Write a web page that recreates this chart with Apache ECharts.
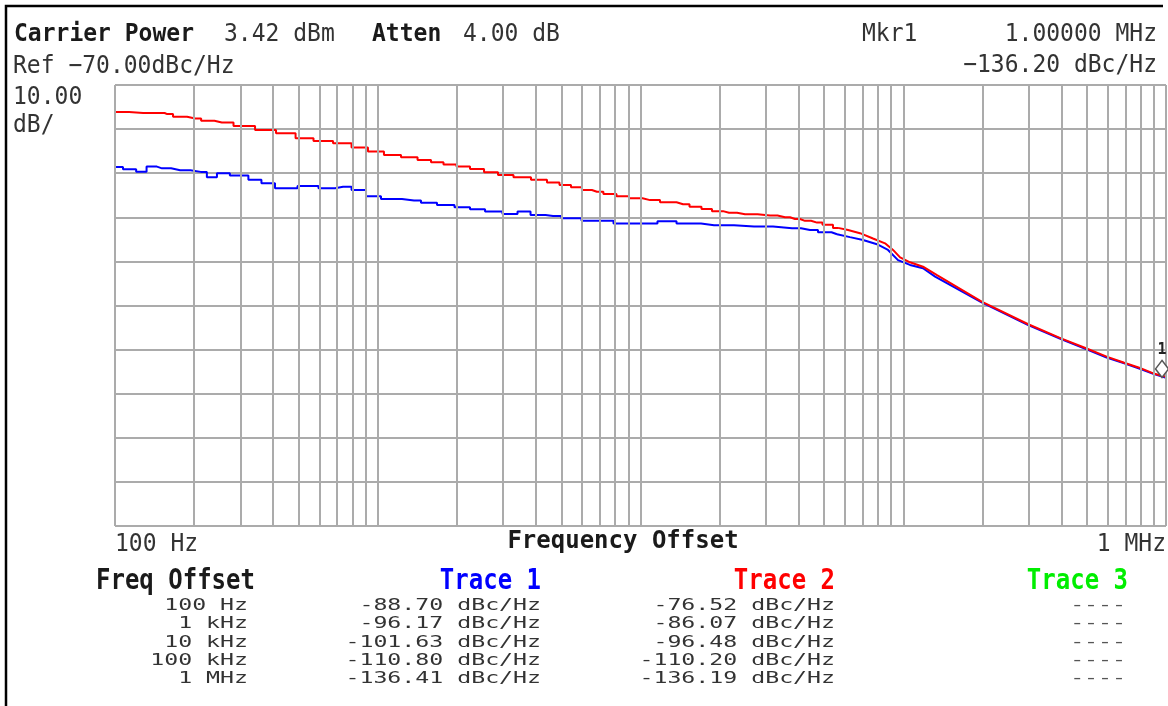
<!DOCTYPE html>
<html>
<head>
<meta charset="utf-8">
<title>Phase Noise</title>
<script src="https://cdn.jsdelivr.net/npm/echarts@6/dist/echarts.min.js"></script>
<style>
  html, body { margin: 0; padding: 0; background: #fff; }
  #chart { width: 1168px; height: 706px; }
</style>
</head>
<body>
<div id="chart"></div>
<script>
// 仪表读数
var carrierPower = 3.42
var atten = 4.00
var refLevel = -70
var scaleDiv = 10
var markerFreqLabel = '1.00000 MHz'
var markerFreq = 1000000
var markerLevel = -136.20

// 表格
var tableFreqs = ['100 Hz', '1 kHz', '10 kHz', '100 kHz', '1 MHz']
var trace1Table = [-88.70, -96.17, -101.63, -110.80, -136.41]
var trace2Table = [-76.52, -86.07, -96.48, -110.20, -136.19]

// 频率偏移 (Hz), dBc/Hz
var trace1 = [
  [100, -88.6], [115, -89.1], [126, -89.65], [138, -88.5], [151, -88.9], [177, -89.35],
  [212, -89.7], [236, -90.9], [253, -90.0], [296, -90.5], [350, -91.5], [372, -92.3],
  [444, -93.4], [552, -92.9], [641, -93.4], [738, -93.05], [856, -93.8], [951, -95.2],
  [1113, -95.85], [1374, -96.2], [1553, -96.7], [1819, -97.2], [2110, -97.7], [2388, -98.2],
  [2746, -98.7], [3243, -99.25], [3572, -98.7], [4074, -99.5], [4645, -99.7], [5395, -100.2],
  [6593, -100.8], [9450, -101.4], [10870, -101.4], [12390, -100.9], [15170, -101.4],
  [19050, -101.8], [27040, -102.1], [37740, -102.5], [44160, -102.9], [50800, -103.4],
  [55980, -103.85], [62660, -104.5], [70300, -105.15], [79430, -106.1], [87500, -107.4],
  [95500, -109.7], [106100, -110.8], [118900, -111.55], [132200, -113.45], [198800, -119.3],
  [297600, -124.4], [398300, -127.6], [496100, -129.9], [594300, -131.8], [693400, -133.1],
  [790700, -134.3], [895000, -135.5], [1000000, -136.4]
]
var trace2 = [
  [100, -76.1], [128, -76.35], [151, -76.35], [158, -76.6], [175, -77.2], [202, -77.6],
  [224, -78.1], [255, -78.5], [313, -79.3], [372, -80.2], [452, -80.95], [524, -82.1],
  [619, -82.7], [738, -83.2], [856, -84.2], [984, -85.1], [1133, -85.9], [1327, -86.4],
  [1514, -87.0], [1680, -87.5], [1884, -88.0], [2110, -88.5], [2388, -89.05], [2698, -89.8],
  [3050, -90.4], [3539, -90.9], [4144, -91.5], [4685, -92.1], [5161, -92.7], [5730, -93.2],
  [6252, -93.8], [6823, -94.2], [7650, -94.7], [8579, -95.2], [9530, -95.7], [10870, -96.1],
  [12950, -96.6], [14520, -97.05], [16260, -97.6], [17910, -98.1], [19550, -98.6],
  [21720, -98.95], [25000, -99.3], [31120, -99.6], [35480, -100.0], [38730, -100.4],
  [42270, -100.8], [46960, -101.2], [51700, -101.7], [56460, -102.4], [61660, -102.9],
  [68450, -103.6], [76700, -104.8], [85250, -105.9], [91440, -107.4], [97260, -109.1],
  [106100, -110.2], [118900, -111.2], [134400, -113.1], [198800, -119.1], [297600, -124.2],
  [398300, -127.45], [496100, -129.7], [594300, -131.6], [693400, -132.97], [790700, -134.1],
  [895000, -135.4], [1000000, -136.15]
]

// 低频段是阶梯状的扫描，高频段是平滑的
var stepLimit = 58000

// 对数网格线 1..9 x 每个十倍频
var gridFreqs = []
for (var d = 100; d < 1000000; d *= 10) {
  for (var m = 1; m < 10; m++) gridFreqs.push(d * m)
}
gridFreqs.push(1000000)

var FONT = '"DejaVu Sans Mono", "Liberation Mono", monospace'
var GRID_COLOR = '#ababab'

function txt(text, x, y, opt) {
  opt = opt || {}
  var align = opt.align || 'left'
  return {
    type: 'text',
    x: x,
    y: y,
    scaleX: opt.sx || 1,
    scaleY: opt.sy || 1,
    silent: true,
    style: {
      text: text,
      font: (opt.bold ? 'bold ' : '') + (opt.size || 23) + 'px ' + FONT,
      fill: opt.color || '#222',
      align: align,
      textAlign: align,
      verticalAlign: 'middle',
      textVerticalAlign: 'middle'
    }
  }
}

function dbc(v) {
  return v.toFixed(2) + ' dBc/Hz'
}

var texts = [
  txt('Carrier Power', 14, 34, { bold: true, sy: 1.1, color: '#1a1a1a' }),
  txt(carrierPower.toFixed(2) + ' dBm', 224, 34, { sy: 1.1, color: '#333' }),
  txt('Atten', 372, 34, { bold: true, sy: 1.1, color: '#1a1a1a' }),
  txt(atten.toFixed(2) + ' dB', 463, 34, { sy: 1.1, color: '#333' }),
  txt('Mkr1', 862, 34, { sy: 1.1, color: '#333' }),
  txt(markerFreqLabel, 1157, 34, { sy: 1.1, color: '#333', align: 'right' }),
  txt('Ref \u2212' + Math.abs(refLevel).toFixed(2) + 'dBc/Hz', 13, 66, { sy: 1.1, color: '#333' }),
  txt('\u2212' + Math.abs(markerLevel).toFixed(2) + ' dBc/Hz', 1157, 65, { sy: 1.1, color: '#333', align: 'right' }),
  txt(scaleDiv.toFixed(2), 13, 97, { sy: 1.1, color: '#333' }),
  txt('dB/', 13, 125, { sy: 1.1, color: '#333' }),
  txt('100 Hz', 115, 544, { sy: 1.1, color: '#333' }),
  txt('1 MHz', 1166, 544, { sy: 1.1, color: '#333', align: 'right' }),
  txt('Frequency Offset', 623, 541, { bold: true, size: 24, sy: 1.05, color: '#1a1a1a', align: 'center' }),
  txt('Freq Offset', 96, 582, { bold: true, size: 24, sy: 1.15, color: '#1a1a1a' }),
  txt('Trace 1', 541, 582, { bold: true, size: 24, sy: 1.15, color: '#0000ff', align: 'right' }),
  txt('Trace 2', 835, 582, { bold: true, size: 24, sy: 1.15, color: '#ff0000', align: 'right' }),
  txt('Trace 3', 1128, 582, { bold: true, size: 24, sy: 1.15, color: '#00ee00', align: 'right' })
]

var rowY = [606, 624, 642.5, 661, 679]
tableFreqs.forEach(function (f, i) {
  var o = { size: 16, sx: 1.45, color: '#333', align: 'right' }
  texts.push(txt(f, 248, rowY[i], o))
  texts.push(txt(dbc(trace1Table[i]), 541, rowY[i], o))
  texts.push(txt(dbc(trace2Table[i]), 835, rowY[i], o))
  texts.push(txt('----', 1126, rowY[i], { size: 16, sx: 1.45, color: '#555', align: 'right' }))
})

// 外框
texts.push({
  type: 'polyline',
  silent: true,
  shape: { points: [[6, 720], [6, 6], [1163, 6]] },
  style: { stroke: '#000', lineWidth: 2.5, fill: null }
})

function lowPart(arr) {
  return arr.filter(function (p) { return p[0] <= stepLimit })
}
function highPart(arr) {
  var low = lowPart(arr)
  return [low[low.length - 1]].concat(arr.filter(function (p) { return p[0] > stepLimit }))
}

function traceSeries(name, data, color, z, step) {
  return {
    name: name,
    type: 'line',
    z: z,
    data: data,
    step: step,
    showSymbol: false,
    lineStyle: { color: color, width: 2 },
    itemStyle: { color: color }
  }
}

var redHigh = traceSeries('Trace 2', highPart(trace2), '#ff0000', 4, false)
redHigh.markPoint = {
  silent: true,
  symbol: 'diamond',
  symbolSize: [13, 17],
  symbolOffset: [-4, -8],
  itemStyle: { color: '#fff', borderColor: '#555', borderWidth: 1.5 },
  label: {
    show: true,
    position: 'top',
    distance: 2,
    formatter: '1',
    color: '#222',
    fontFamily: 'DejaVu Sans Mono',
    fontWeight: 'bold',
    fontSize: 15
  },
  data: [{ coord: [markerFreq, markerLevel] }]
}

var chart = echarts.init(document.getElementById('chart'))
chart.setOption({
  animation: false,
  backgroundColor: '#fff',
  grid: { left: 115, top: 85, width: 1051, height: 441 },
  xAxis: {
    type: 'log',
    logBase: 10,
    min: 100,
    max: 1000000,
    axisLine: { show: false },
    axisTick: { show: false },
    axisLabel: { show: false },
    splitLine: { show: false }
  },
  yAxis: {
    type: 'value',
    min: refLevel - 10 * scaleDiv,
    max: refLevel,
    interval: scaleDiv,
    axisLine: { show: false },
    axisTick: { show: false },
    axisLabel: { show: false },
    splitLine: { show: true, showMinLine: true, showMaxLine: true, lineStyle: { color: GRID_COLOR, width: 2 } }
  },
  graphic: { elements: texts },
  series: [
    {
      // 竖直网格
      type: 'line',
      z: 1,
      silent: true,
      data: [[100, refLevel]],
      showSymbol: false,
      lineStyle: { opacity: 0 },
      markLine: {
        silent: true,
        symbol: ['none', 'none'],
        label: { show: false },
        lineStyle: { color: GRID_COLOR, width: 2, type: 'solid' },
        emphasis: { disabled: true },
        data: gridFreqs.map(function (f) { return { xAxis: f } })
      }
    },
    traceSeries('Trace 1', lowPart(trace1), '#0000ff', 3, 'middle'),
    traceSeries('Trace 1', highPart(trace1), '#0000ff', 3, false),
    traceSeries('Trace 2', lowPart(trace2), '#ff0000', 4, 'middle'),
    redHigh
  ]
})
</script>
</body>
</html>
